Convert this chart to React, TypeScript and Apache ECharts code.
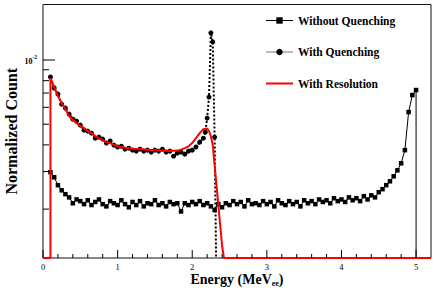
import React, { useEffect, useRef } from 'react';
import * as echarts from 'echarts';

const X_MIN = 0;
const X_MAX = 5.2;
const Y_MIN = 0.00118;
const Y_MAX = 0.0182;
const UNIT = 1e-3; // values below are in units of 1e-3; 0 = empty bin

const SERIES_NAMES = ['Without Quenching', 'With Quenching', 'With Resolution'];

const WITHOUT_QUENCHING: [number, number][] = [
  [0.1, 2.98], [0.15, 2.82], [0.2, 2.59], [0.25, 2.45], [0.3, 2.35], [0.35, 2.27],
  [0.4, 2.13], [0.45, 2.22], [0.5, 2.18], [0.55, 2.11], [0.6, 2.2], [0.65, 2.09],
  [0.7, 2.16], [0.75, 2.22], [0.8, 2.11], [0.85, 2.06], [0.9, 2.18], [0.95, 2.13],
  [1.0, 2.09], [1.05, 2.2], [1.1, 2.11], [1.15, 2.04], [1.2, 2.16], [1.25, 2.09],
  [1.3, 2.18], [1.35, 2.06], [1.4, 2.13], [1.45, 2.11], [1.5, 2.2], [1.55, 2.09],
  [1.6, 2.13], [1.65, 2.06], [1.7, 2.16], [1.75, 2.11], [1.8, 2.13], [1.85, 1.95],
  [1.9, 2.13], [1.95, 2.09], [2.0, 2.16], [2.05, 2.11], [2.1, 2.18], [2.15, 2.09],
  [2.2, 2.13], [2.25, 2.06], [2.3, 1.98], [2.35, 2.11], [2.4, 2.04], [2.45, 2.13],
  [2.5, 2.09], [2.55, 2.18], [2.6, 2.11], [2.65, 2.16], [2.7, 2.06], [2.75, 2.2],
  [2.8, 2.11], [2.85, 2.13], [2.9, 2.09], [2.95, 2.18], [3.0, 2.11], [3.05, 2.16],
  [3.1, 2.06], [3.15, 2.2], [3.2, 2.13], [3.25, 2.09], [3.3, 2.18], [3.35, 2.11],
  [3.4, 2.16], [3.45, 2.06], [3.5, 2.2], [3.55, 2.13], [3.6, 2.18], [3.65, 2.11],
  [3.7, 2.22], [3.75, 2.16], [3.8, 2.2], [3.85, 2.13], [3.9, 2.25], [3.95, 2.18],
  [4.0, 2.22], [4.05, 2.16], [4.1, 2.27], [4.15, 2.2], [4.2, 2.25], [4.25, 2.18],
  [4.3, 2.3], [4.35, 2.22], [4.4, 2.32], [4.45, 2.27], [4.5, 2.4], [4.55, 2.48],
  [4.6, 2.59], [4.65, 2.7], [4.7, 2.85], [4.75, 3.04], [4.8, 3.28], [4.85, 3.78],
  [4.9, 5.7], [4.95, 6.85], [5.0, 7.23], [5.0, 0],
];

const WITH_QUENCHING: [number, number][] = [
  [0.1, 8.32], [0.15, 7.39], [0.2, 6.92], [0.25, 6.21], [0.3, 5.95], [0.35, 5.58],
  [0.4, 5.28], [0.45, 5.17], [0.5, 4.95], [0.55, 4.69], [0.6, 4.64], [0.65, 4.54],
  [0.7, 4.3], [0.75, 4.35], [0.8, 4.26], [0.85, 4.08], [0.9, 4.17], [0.95, 3.99],
  [1.0, 3.91], [1.05, 3.94], [1.1, 3.82], [1.15, 3.86], [1.2, 3.78], [1.25, 3.74],
  [1.3, 3.82], [1.35, 3.74], [1.4, 3.78], [1.45, 3.7], [1.5, 3.78], [1.55, 3.74],
  [1.6, 3.82], [1.65, 3.7], [1.7, 3.74], [1.75, 3.54], [1.8, 3.66], [1.85, 3.7],
  [1.9, 3.62], [1.95, 3.74], [2.0, 3.78], [2.05, 3.91], [2.1, 4.12], [2.15, 4.3],
  [2.175, 4.59], [2.2, 5.34], [2.225, 6.7], [2.25, 13.4], [2.275, 12.15], [2.3, 4.35],
  [2.32, 0],
];

const WITH_RESOLUTION: [number, number][] = [
  [0, 0], [0.1, 0], [0.1, 8.23], [0.15, 7.46], [0.2, 6.78], [0.25, 6.28], [0.3, 5.89],
  [0.35, 5.46], [0.4, 5.23], [0.45, 5.06], [0.5, 4.9], [0.55, 4.8], [0.6, 4.64],
  [0.65, 4.54], [0.7, 4.4], [0.75, 4.3], [0.8, 4.21], [0.85, 4.12], [0.9, 4.08],
  [0.95, 4.0], [1.0, 3.94], [1.1, 3.88], [1.2, 3.84], [1.3, 3.82], [1.4, 3.8],
  [1.5, 3.78], [1.6, 3.76], [1.7, 3.74], [1.8, 3.76], [1.85, 3.8], [1.9, 3.86],
  [1.95, 3.94], [2.0, 4.08], [2.05, 4.3], [2.1, 4.54], [2.15, 4.74], [2.2, 4.77],
  [2.225, 4.64], [2.25, 4.4], [2.275, 3.99], [2.3, 3.21], [2.325, 2.59], [2.35, 2.09],
  [2.375, 1.68], [2.4, 1.35], [2.425, 0], [5.2, 0],
];

const X_MAJOR_TICKS = [0, 1, 2, 3, 4, 5];
const X_MINOR_TICKS = [
  0.2, 0.4, 0.6, 0.8, 1.2, 1.4, 1.6, 1.8, 2.2, 2.4, 2.6, 2.8,
  3.2, 3.4, 3.6, 3.8, 4.2, 4.4, 4.6, 4.8,
];
const Y_MAJOR_TICKS = [0.01];
const Y_MINOR_TICKS = [0.002, 0.003, 0.004, 0.005, 0.006, 0.007, 0.008, 0.009];

const FONT = "'Liberation Serif', 'Times New Roman', serif";

function toData(arr: [number, number][], showSymbol: boolean) {
  return arr.map(([e, v]) => {
    const y = v === 0 ? Y_MIN : v * UNIT;
    if (v === 0 || !showSymbol) return { value: [e, y], symbol: 'none' };
    return { value: [e, y] };
  });
}

export default function App() {
  const ref = useRef<HTMLDivElement>(null);
  useEffect(() => {
    if (!ref.current) return;
    const chart = echarts.init(ref.current, undefined, { renderer: 'svg' });
    const tickData = [
      ...X_MAJOR_TICKS.map((v) => [v, Y_MIN, 1, 0]),
      ...X_MINOR_TICKS.map((v) => [v, Y_MIN, 0, 0]),
      ...Y_MAJOR_TICKS.map((v) => [X_MIN, v, 1, 1]),
      ...Y_MINOR_TICKS.map((v) => [X_MIN, v, 0, 1]),
    ];
    chart.setOption({
      animation: false,
      backgroundColor: '#fff',
      grid: {
        left: 43, right: 5, top: 4.5, bottom: 30,
        outerBoundsMode: 'none',
        containLabel: false,
        show: true, borderColor: '#111', borderWidth: 1, backgroundColor: '#fff',
      },
      legend: {
        orient: 'vertical',
        left: 260,
        top: 9.5,
        itemWidth: 27,
        itemHeight: 8,
        itemGap: 19.5,
        textStyle: { fontFamily: FONT, fontWeight: 'bold', fontSize: 11.5, color: '#000' },
        data: [
          { name: SERIES_NAMES[0], lineStyle: { color: '#000', width: 1, type: 'solid' } },
          { name: SERIES_NAMES[1], lineStyle: { color: '#777', width: 1, type: 'solid' } },
          { name: SERIES_NAMES[2], lineStyle: { color: '#ff0000', width: 2, type: 'solid' }, itemStyle: { opacity: 0 } },
        ],
      },
      xAxis: {
        type: 'value', min: X_MIN, max: X_MAX, interval: 1,
        axisLine: { show: false }, axisTick: { show: false }, splitLine: { show: false },
        axisLabel: {
          showMaxLabel: false, margin: 4, fontSize: 8.5, lineHeight: 9, color: '#000', fontFamily: FONT,
          formatter: (v: number) => (Number.isInteger(v) ? String(v) : ''),
        },
        name: '{a|Energy (MeV}{s|ee}{a|)}',
        nameLocation: 'middle',
        nameMoveOverlap: false,
        nameGap: 14,
        nameTextStyle: {
          rich: {
            a: { fontFamily: FONT, fontWeight: 'bold', fontSize: 14, color: '#000', lineHeight: 15, verticalAlign: 'top' },
            s: { fontFamily: FONT, fontWeight: 'bold', fontSize: 8, color: '#000', lineHeight: 15, verticalAlign: 'bottom' },
          },
        },
      },
      yAxis: {
        type: 'log', min: Y_MIN, max: Y_MAX, logBase: 10,
        axisLine: { show: false }, axisTick: { show: false }, splitLine: { show: false },
        minorTick: { show: false },
        axisLabel: {
          margin: 6,
          formatter: (v: number) => (Math.abs(v - 0.01) < 1e-9 ? '{a|10}{b|-2}' : ''),
          rich: {
            a: { fontFamily: FONT, fontWeight: 'bold', fontSize: 8, color: '#000', lineHeight: 11, verticalAlign: 'bottom' },
            b: { fontFamily: FONT, fontWeight: 'bold', fontSize: 5.5, color: '#000', lineHeight: 11, verticalAlign: 'top' },
          },
        },
        name: 'Normalized Count',
        nameLocation: 'middle',
        nameMoveOverlap: false,
        nameRotate: 90,
        nameGap: 24,
        nameTextStyle: { fontFamily: FONT, fontWeight: 'bold', fontSize: 16, color: '#000' },
      },
      series: [
        {
          name: SERIES_NAMES[2], type: 'line', data: toData(WITH_RESOLUTION, false),
          symbol: 'none', lineStyle: { color: '#ff0000', width: 2 }, itemStyle: { color: '#ff0000' },
          clip: false, z: 3,
        },
        {
          name: SERIES_NAMES[0], type: 'line', data: toData(WITHOUT_QUENCHING, true),
          symbol: 'rect', symbolSize: 4.5, lineStyle: { color: '#000', width: 1 },
          itemStyle: { color: '#000' }, clip: true, z: 2,
        },
        {
          name: SERIES_NAMES[1], type: 'line', data: toData(WITH_QUENCHING, true),
          symbol: 'circle', symbolSize: 5, lineStyle: { color: '#000', width: 2, type: 'dotted' },
          itemStyle: { color: '#000' }, clip: true, z: 2,
        },
        {
          type: 'custom', silent: true, data: tickData, encode: { x: 0, y: 1 }, z: 5,
          renderItem: (_params: any, api: any) => {
            const isY = api.value(3) === 1;
            const major = api.value(2) === 1;
            const p = api.coord([api.value(0), api.value(1)]);
            if (isY) {
              const len = major ? 12 : 6;
              return { type: 'line', shape: { x1: p[0], y1: p[1], x2: p[0] + len, y2: p[1] }, style: { stroke: '#000', lineWidth: 1 } };
            }
            const len = major ? 8 : 4;
            return { type: 'line', shape: { x1: p[0], y1: p[1], x2: p[0], y2: p[1] - len }, style: { stroke: '#000', lineWidth: 1 } };
          },
        },
      ],
    });
    return () => chart.dispose();
  }, []);
  return (
    <div
      ref={ref}
      style={{ position: 'fixed', left: 0, top: 0, width: 436, height: 288, background: '#fff' }}
    />
  );
}
